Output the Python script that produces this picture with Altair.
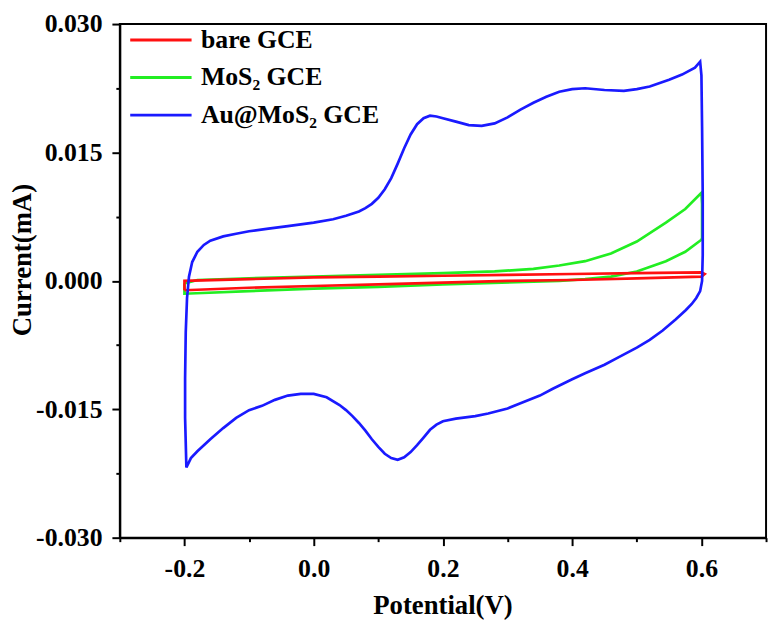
import altair as alt
import pandas as pd

series_names = ["bare GCE", "MoS\u2082 GCE", "Au@MoS\u2082 GCE"]
series_colors = ["#ff1010", "#22ee22", "#1a1aff"]

bare_x = [-0.2, -0.1, 0.0, 0.1, 0.2, 0.3, 0.4, 0.5, 0.6, 0.605, 0.6, 0.5, 0.4, 0.3, 0.2, 0.1, 0.0, -0.1, -0.2, -0.2]
bare_y = [-0.0011, -0.0008, -0.0006, -0.0004, -0.0002, 0.0000, 0.0001, 0.0003, 0.0005, 0.0008, 0.0010, 0.0009, 0.0008, 0.0007, 0.0006, 0.0005, 0.0004, 0.0002, 0.0000, -0.0011]

mos2_x = [-0.2, -0.18, -0.1, 0.0, 0.1, 0.2, 0.28, 0.34, 0.38, 0.42, 0.46, 0.5, 0.545, 0.575, 0.6, 0.601, 0.601, 0.6, 0.575, 0.545, 0.5, 0.46, 0.42, 0.38, 0.34, 0.2, 0.1, 0.0, -0.1, -0.2, -0.2]
mos2_y = [-0.0003, 0.0001, 0.0003, 0.0005, 0.0007, 0.0009, 0.0011, 0.0014, 0.0018, 0.0023, 0.0032, 0.0046, 0.0068, 0.0084, 0.0103, 0.0090, 0.0050, 0.0048, 0.0034, 0.0023, 0.0011, 0.0005, 0.0002, 0.0000, -0.0001, -0.0004, -0.0007, -0.0009, -0.0012, -0.0015, -0.0003]

au_x = [-0.199, -0.198, -0.196, -0.193, -0.188, -0.18, -0.17, -0.16, -0.14, -0.12, -0.1, -0.07, -0.04, -0.02, 0.0, 0.03, 0.05, 0.07, 0.08, 0.09, 0.1, 0.11, 0.12, 0.13, 0.14, 0.15, 0.16, 0.17, 0.18, 0.19, 0.2, 0.22, 0.24, 0.26, 0.28, 0.3, 0.32, 0.34, 0.36, 0.38, 0.4, 0.42, 0.45, 0.48, 0.5, 0.52, 0.55, 0.57, 0.59, 0.598,
        0.600, 0.601, 0.602, 0.602, 0.601, 0.598, 0.592, 0.585, 0.576, 0.56, 0.54, 0.52, 0.5, 0.47, 0.45, 0.42, 0.4, 0.37, 0.35, 0.32, 0.3, 0.27, 0.25, 0.22, 0.2, 0.19, 0.18, 0.17, 0.16, 0.15, 0.14, 0.13, 0.12, 0.11, 0.1, 0.09, 0.08, 0.07, 0.06, 0.05, 0.04, 0.02, 0.0, -0.02, -0.04, -0.06, -0.08, -0.1, -0.12, -0.14, -0.16, -0.18, -0.19, -0.197, -0.199, -0.199]
au_y = [-0.0114, -0.0060, -0.0020, 0.0005, 0.0022, 0.0034, 0.0042, 0.0047, 0.0052, 0.0055, 0.0058, 0.0061, 0.0064, 0.0066, 0.0068, 0.0072, 0.0076, 0.0081, 0.0085, 0.0090, 0.0097, 0.0107, 0.0120, 0.0137, 0.0155, 0.0171, 0.0183, 0.0190, 0.0193, 0.0192, 0.0190, 0.0186, 0.0182, 0.0181, 0.0184, 0.0191, 0.0200, 0.0208, 0.0215, 0.0221, 0.0224, 0.0225, 0.0223, 0.0222, 0.0224, 0.0227, 0.0235, 0.0241, 0.0249, 0.0256,
        0.0240, 0.0180, 0.0100, 0.0030, 0.0000, -0.0012, -0.0020, -0.0027, -0.0034, -0.0045, -0.0058, -0.0069, -0.0078, -0.0090, -0.0098, -0.0108, -0.0115, -0.0126, -0.0134, -0.0143, -0.0149, -0.0155, -0.0158, -0.0161, -0.0164, -0.0168, -0.0174, -0.0183, -0.0192, -0.0200, -0.0206, -0.0209, -0.0207, -0.0202, -0.0194, -0.0185, -0.0175, -0.0166, -0.0158, -0.0151, -0.0145, -0.0136, -0.0132, -0.0132, -0.0134, -0.0139, -0.0146, -0.0151, -0.0160, -0.0172, -0.0185, -0.0199, -0.0207, -0.0218, -0.0160, -0.0114]

x_ticks = [-0.3, -0.2, -0.1, 0.0, 0.1, 0.2, 0.3, 0.4, 0.5, 0.6, 0.7]
y_ticks = [-0.030, -0.0225, -0.015, -0.0075, 0.0, 0.0075, 0.015, 0.0225, 0.030]

rows = []
for name, xs, ys in zip(series_names, [bare_x, mos2_x, au_x], [bare_y, mos2_y, au_y]):
    for i, (a, b) in enumerate(zip(xs, ys)):
        rows.append({"series": name, "E": a, "I": b, "idx": i})
df = pd.DataFrame(rows)

FONT = "Liberation Serif"

x_major = "abs(datum.value/0.2 - round(datum.value/0.2)) < 1e-6"
y_major = "abs(datum.value/0.015 - round(datum.value/0.015)) < 1e-6"

axis_style = dict(
    grid=False, labelOverlap=False,
    domainColor="black", domainWidth=2, tickColor="black", tickWidth=2,
    labelFont=FONT, labelFontWeight="bold", labelFontSize=26, labelColor="black",
    titleFont=FONT, titleFontWeight="bold", titleFontSize=27, titleColor="black",
    titleBaseline="alphabetic", titleAlign="center",
)

PLOT_H = 519

x_enc = alt.X("E:Q", scale=alt.Scale(domain=[-0.3, 0.7], nice=False, zero=False),
              axis=alt.Axis(values=x_ticks, title="Potential(V)",
                            labelExpr=f"{x_major} ? ((datum.value < -1e-9 ? '-' : '') + format(abs(datum.value), '.1f')) : ''",
                            tickSize={"condition": {"test": x_major, "value": 8}, "value": 4},
                            labelPadding=10, titleX=326, titleY=77, **axis_style))
y_enc = alt.Y("I:Q", scale=alt.Scale(domain=[-0.030, 0.030], nice=False, zero=False),
              axis=alt.Axis(values=y_ticks, title="Current(mA)",
                            labelExpr=f"{y_major} ? ((datum.value < -1e-9 ? '-' : '') + format(abs(datum.value), '.3f')) : ''",
                            tickSize={"condition": {"test": y_major, "value": 8}, "value": 4},
                            labelPadding=10, titleX=-90, titleY=238, titleAngle=270, **axis_style))
color_enc = alt.Color("series:N", scale=alt.Scale(domain=series_names, range=series_colors),
                      legend=alt.Legend(title=None, orient="none", legendX=27.5, legendY=2,
                                        symbolType="M-2.48,0H2.48", symbolSize=625, symbolStrokeWidth=3,
                                        labelFont=FONT, labelFontWeight="bold", labelFontSize=26,
                                        labelColor="black", labelOffset=26.5, rowPadding=11, padding=0,
                                        labelLimit=400))

layers = []
for name in [series_names[1], series_names[0], series_names[2]]:
    layers.append(
        alt.Chart(df[df.series == name]).mark_line(strokeWidth=2.7).encode(
            x=x_enc, y=y_enc, color=color_enc, order="idx:Q")
    )

chart = alt.layer(*layers).properties(
    width=653, height=PLOT_H, autosize="none", background="white",
    padding={"left": 113, "top": 13, "right": 5, "bottom": 85},
).configure_view(stroke="black", strokeWidth=2)

chart.save("out.html", embed_options={"renderer": "svg", "actions": False})
